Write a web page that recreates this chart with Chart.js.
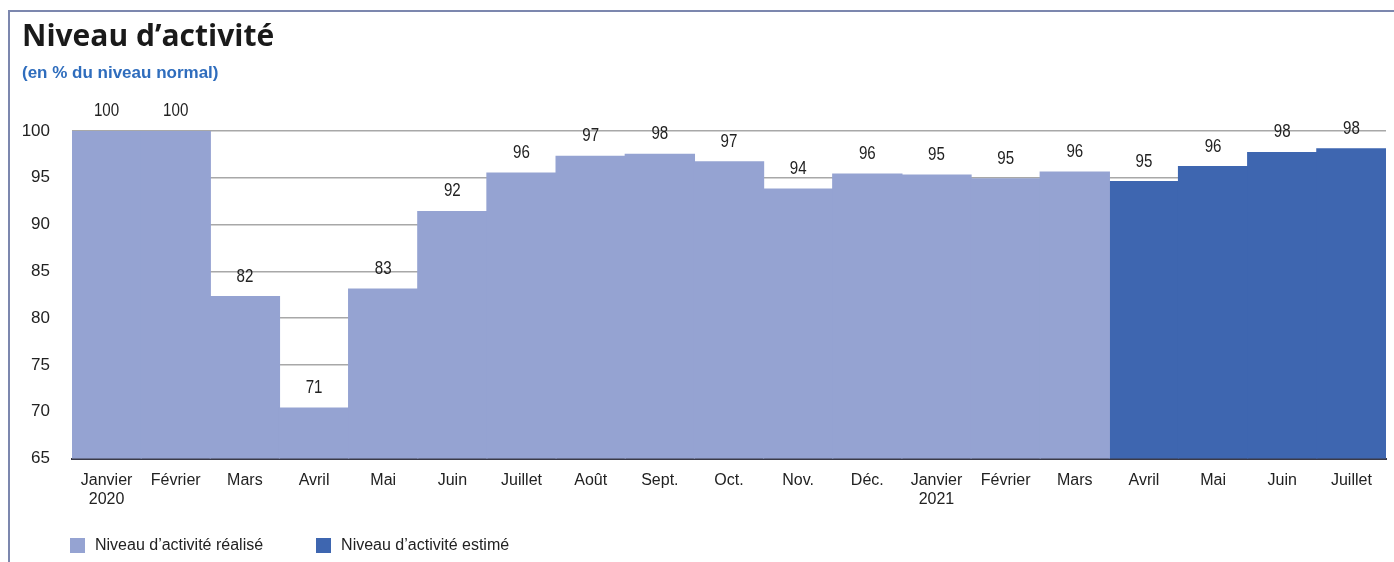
<!DOCTYPE html>
<html>
<head>
<meta charset="utf-8">
<script src="https://cdn.jsdelivr.net/npm/chart.js@4.4.1/dist/chart.umd.min.js"></script>
<style>
  html, body { margin: 0; padding: 0; background: #fff; }
  #wrap { position: relative; width: 1394px; height: 562px; overflow: hidden; }
  #frame { position: absolute; left: 8px; top: 10px; width: 1400px; height: 600px;
           border-top: 2px solid #7c87ae; border-left: 2px solid #7c87ae; }
  canvas { position: absolute; left: 0; top: 0; }
  .legend { position: absolute; top: 536px; left: 70px; display: flex;
            font: 16px "Liberation Sans", Arial, sans-serif; color: #222; }
  .item { display: flex; align-items: center; margin-right: 53px; }
  .box { width: 15px; height: 15px; margin-right: 10px; }
</style>
</head>
<body>
<div id="wrap">
  <div id="frame"></div>
  <canvas id="activityChart" width="1394" height="562"></canvas>
  <div class="legend" id="legend"></div>
</div>
<script>
// months shown on the x axis
const months = [["Janvier", "2020"], "Février", "Mars", "Avril", "Mai", "Juin", "Juillet", "Août",
    "Sept.", "Oct.", "Nov.", "Déc.", ["Janvier", "2021"], "Février", "Mars", "Avril", "Mai", "Juin", "Juillet"];

// bar heights
const realise = [100, 100, 82.3, 70.4, 83.1, 91.4, 95.5, 97.3, 97.5, 96.7, 93.8, 95.4, 95.3, 94.9, 95.6,
    null, null, null, null];
const estime = [null, null, null, null, null, null, null, null, null, null, null, null, null, null, null,
    94.6, 96.2, 97.7, 98.1];

// rounded values printed above the bars
const shownValues = [100, 100, 82, 71, 83, 92, 96, 97, 98, 97, 94, 96, 95, 95, 96, 95, 96, 98, 98];

const yTicks = [65, 70, 75, 80, 85, 90, 95, 100];

const colRealise = "#95a3d2";
const colEstime = "#3e66b0";
const sans = "'Liberation Sans', Arial, sans-serif";

// legend
const legendDiv = document.getElementById("legend");
[["Niveau d’activité réalisé", colRealise], ["Niveau d’activité estimé", colEstime]].forEach(([txt, col]) => {
    const item = document.createElement("div");
    item.className = "item";
    item.innerHTML = `<span class="box" style="background:${col}"></span><span>${txt}</span>`;
    legendDiv.appendChild(item);
});

// values above each bar (squeezed a bit, the original uses a narrow face)
const valueLabels = {
    id: "valueLabels",
    afterDatasetsDraw(chart) {
        const ctx = chart.ctx;
        chart.data.datasets.forEach((ds, i) => {
            chart.getDatasetMeta(i).data.forEach((bar, j) => {
                if (ds.data[j] == null) return;
                ctx.save();
                ctx.font = "18px " + sans;
                ctx.fillStyle = "#222";
                ctx.textAlign = "center";
                ctx.textBaseline = "middle";
                ctx.translate(bar.x, bar.y - 20);
                ctx.scale(0.84, 1);
                ctx.fillText(shownValues[j], 0, 0);
                ctx.restore();
            });
        });
    }
};

const ctx = document.getElementById("activityChart").getContext("2d");
new Chart(ctx, {
    type: "bar",
    data: {
        labels: months,
        datasets: [
            { label: "Niveau d’activité réalisé", data: realise, backgroundColor: colRealise },
            { label: "Niveau d’activité estimé", data: estime, backgroundColor: colEstime }
        ]
    },
    options: {
        responsive: false,
        animation: false,
        layout: { padding: { left: 22, right: 8, top: 0, bottom: 49 } },
        datasets: { bar: { barPercentage: 1, categoryPercentage: 1, inflateAmount: 0.6 } },
        plugins: {
            legend: { display: false },
            tooltip: { enabled: false },
            title: {
                display: true,
                text: "Niveau d’activité",
                align: "start",
                color: "#1a1a1a",
                font: { family: "'Open Sans', sans-serif", size: 30, weight: "bold" },
                padding: { top: 19, bottom: 4 }
            },
            subtitle: {
                display: true,
                text: "(en % du niveau normal)",
                align: "start",
                color: "#2f6dbd",
                font: { family: sans, size: 17, weight: "bold" },
                padding: { top: 4, bottom: 47.6 }
            }
        },
        scales: {
            x: {
                stacked: true,
                grid: { display: false },
                border: { display: true, color: "#3a3a48", width: 2 },
                ticks: { color: "#222", font: { family: sans, size: 16 }, padding: 4, maxRotation: 0, autoSkip: false }
            },
            y: {
                min: 65,
                max: 100,
                afterBuildTicks: axis => { axis.ticks = yTicks.map(v => ({ value: v })); },
                afterFit: axis => { axis.width = 50; },
                grid: { color: "#a8a8a8", lineWidth: 1.5, drawTicks: false },
                border: { display: false },
                ticks: { color: "#222", font: { family: sans, size: 17 }, padding: 22 }
            }
        }
    },
    plugins: [valueLabels]
});
</script>
</body>
</html>
